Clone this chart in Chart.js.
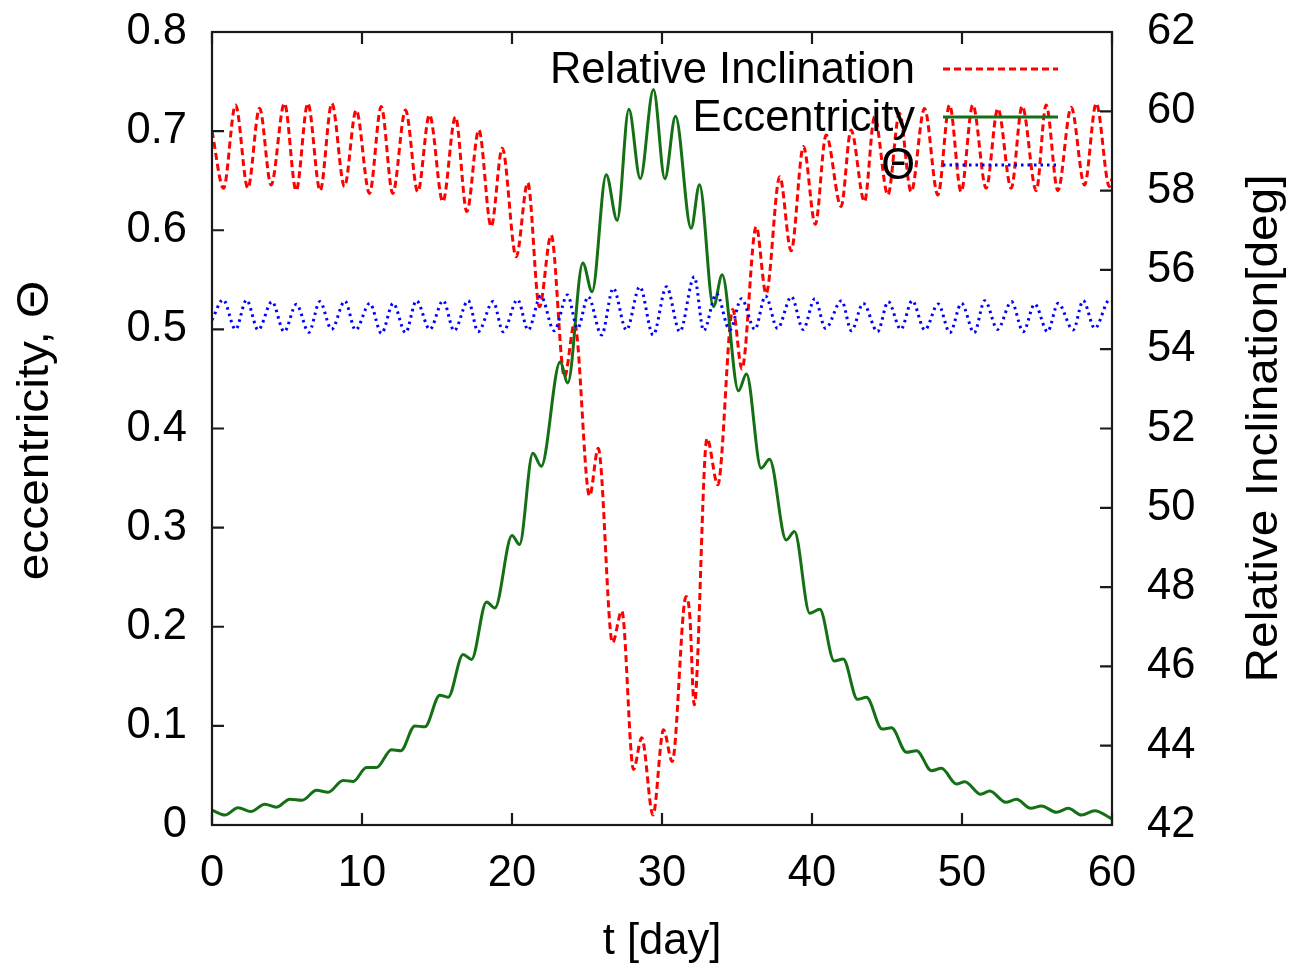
<!DOCTYPE html>
<html><head><meta charset="utf-8">
<script src="https://cdn.jsdelivr.net/npm/chart.js@4.4.1/dist/chart.umd.min.js"></script>
<style>html,body{margin:0;padding:0;background:#fff;}#wrap{width:1294px;height:973px;}</style>
</head><body><div id="wrap"><canvas id="c" width="1294" height="973"></canvas></div>
<script>
// ---- tick values ----
const xTicks = [0, 10, 20, 30, 40, 50, 60];
const eccTicks = [0, 0.1, 0.2, 0.3, 0.4, 0.5, 0.6, 0.7, 0.8];
const incTicks = [42, 44, 46, 48, 50, 52, 54, 56, 58, 60, 62];

// ---- labels ----
const xTitle = 't [day]';
const yTitle = 'eccentricity, \u0398';
const y2Title = 'Relative Inclination[deg]';
const seriesNames = ['Relative Inclination', 'Eccentricity', '\u0398'];

// ---- Relative inclination [deg] (right axis) ----
const incT = [0, 0.77, 1.57, 2.39, 3.17, 3.94, 4.83, 5.61, 6.39, 7.21, 7.99, 8.83, 9.61, 10.5, 11.28, 12.05, 12.9, 13.72, 14.5, 15.39, 16.23, 16.99, 17.79, 18.61, 19.35, 20.28, 21.05, 21.83, 22.61, 23.5, 24.17, 25.17, 25.75, 26.7, 27.32, 28.1, 28.65, 29.4, 30.1, 30.68, 31.6, 31.85, 32.15, 33.0, 33.72, 34.72, 35.33, 36.28, 36.94, 37.85, 38.61, 39.43, 40.22, 40.94, 41.94, 42.6, 43.5, 44.17, 45.06, 45.83, 46.61, 47.5, 48.39, 49.17, 49.94, 50.72, 51.61, 52.39, 53.28, 54.01, 54.95, 55.61, 56.39, 57.28, 58.17, 58.95, 59.83, 60];
const incV = [59.5, 58.06, 60.16, 58.06, 60.08, 58.14, 60.2, 58.0, 60.2, 58.0, 60.2, 58.1, 60.03, 57.93, 60.12, 57.93, 60.03, 57.97, 59.91, 57.72, 59.86, 57.47, 59.53, 57.09, 59.07, 56.33, 58.2, 55.07, 56.88, 53.3, 54.65, 50.3, 51.5, 46.6, 47.4, 43.4, 44.2, 42.25, 44.4, 43.6, 47.76, 47.3, 45.03, 51.75, 50.58, 55.0, 53.5, 57.09, 55.4, 58.35, 56.48, 59.11, 57.15, 59.4, 57.6, 59.53, 57.72, 59.86, 57.89, 59.95, 57.97, 60.07, 57.89, 60.16, 57.97, 60.16, 58.06, 60.07, 58.06, 60.13, 58.0, 60.16, 58.0, 60.1, 58.14, 60.2, 58.1, 58.3];

// ---- Eccentricity (left axis) ----
const eccT = [0, 0.86, 1.74, 2.59, 3.52, 4.3, 5.19, 6.01, 6.97, 7.74, 8.74, 9.41, 10.3, 10.97, 11.97, 12.59, 13.52, 14.19, 15.19, 15.74, 16.74, 17.3, 18.3, 18.86, 20.0, 20.5, 21.39, 21.95, 23.21, 23.72, 24.72, 25.34, 26.28, 27.01, 27.79, 28.55, 29.43, 30.19, 30.9, 31.94, 32.5, 33.43, 34.01, 35.1, 35.63, 36.61, 37.17, 38.28, 38.83, 39.85, 40.52, 41.48, 42.08, 43.03, 43.63, 44.68, 45.3, 46.3, 46.97, 47.97, 48.63, 49.63, 50.19, 51.25, 51.85, 52.92, 53.63, 54.59, 55.3, 56.3, 57.08, 57.97, 58.85, 59.85, 60];
const eccV = [0.015, 0.010, 0.0175, 0.0135, 0.021, 0.018, 0.026, 0.025, 0.035, 0.033, 0.045, 0.044, 0.058, 0.058, 0.076, 0.075, 0.100, 0.099, 0.131, 0.129, 0.172, 0.167, 0.225, 0.219, 0.292, 0.283, 0.375, 0.362, 0.467, 0.446, 0.567, 0.538, 0.656, 0.610, 0.722, 0.652, 0.742, 0.652, 0.715, 0.602, 0.646, 0.523, 0.555, 0.438, 0.455, 0.360, 0.369, 0.2875, 0.296, 0.2136, 0.2176, 0.1654, 0.1675, 0.1268, 0.1288, 0.0968, 0.098, 0.0733, 0.075, 0.0548, 0.0572, 0.0414, 0.0437, 0.031, 0.0343, 0.0229, 0.0259, 0.0168, 0.0192, 0.0128, 0.0168, 0.010, 0.0145, 0.0074, 0.006];

// ---- Theta (left axis) ----
const thT = [0, 0.74, 1.57, 2.3, 3.08, 4.0, 4.81, 5.63, 6.45, 7.19, 7.97, 8.86, 9.57, 10.52, 11.3, 12.08, 12.9, 13.63, 14.52, 15.41, 16.14, 17.08, 17.74, 18.74, 19.41, 20.37, 21.08, 21.92, 22.81, 23.7, 24.37, 25.08, 25.97, 26.75, 27.63, 28.52, 29.41, 30.3, 31.19, 32.15, 32.78, 33.63, 34.52, 35.3, 36.19, 36.9, 37.7, 38.63, 39.41, 40.19, 40.9, 41.97, 42.63, 43.41, 44.37, 45.08, 45.92, 46.68, 47.52, 48.41, 49.19, 49.97, 50.81, 51.52, 52.37, 53.3, 54.08, 54.85, 55.7, 56.41, 57.41, 58.08, 58.85, 59.85, 60];
const thV = [0.5095, 0.530, 0.500, 0.5296, 0.4994, 0.528, 0.4977, 0.5253, 0.497, 0.528, 0.500, 0.5286, 0.4994, 0.5263, 0.496, 0.5263, 0.4967, 0.529, 0.500, 0.529, 0.4987, 0.529, 0.4977, 0.528, 0.4977, 0.530, 0.4994, 0.5337, 0.4987, 0.5347, 0.501, 0.533, 0.4943, 0.5414, 0.4994, 0.543, 0.4943, 0.543, 0.4977, 0.553, 0.4987, 0.536, 0.4994, 0.531, 0.500, 0.5337, 0.501, 0.533, 0.500, 0.531, 0.501, 0.529, 0.4987, 0.5263, 0.4977, 0.528, 0.500, 0.529, 0.4994, 0.5256, 0.4967, 0.5263, 0.4967, 0.529, 0.500, 0.528, 0.4977, 0.5256, 0.4977, 0.5263, 0.4994, 0.529, 0.501, 0.530, 0.529];

const pts = (xs, ys) => xs.map((x, i) => ({x: x, y: ys[i]}));
const FONT = 'Liberation Sans, Arial, sans-serif';
const FS = 43.5;
const RED = '#ff0000', GREEN = '#157015', BLUE = '#0000ff';

function drawVTitle(ctx, text, cx, cy) {
  ctx.save();
  ctx.translate(cx, cy);
  ctx.rotate(-Math.PI / 2);
  ctx.scale(1.1, 1);
  ctx.textAlign = 'center';
  ctx.textBaseline = 'middle';
  ctx.fillStyle = '#000';
  ctx.font = FS + 'px ' + FONT;
  ctx.fillText(text, 0, 0);
  ctx.restore();
}

const decor = {
  id: 'decor',
  afterDatasetsDraw(chart) {
    const {ctx, chartArea: a, scales} = chart;
    ctx.save();
    ctx.strokeStyle = '#1a1a1a';
    ctx.lineWidth = 2.2;
    ctx.setLineDash([]);
    ctx.strokeRect(a.left, a.top, a.right - a.left, a.bottom - a.top);
    const TL = 12;
    ctx.beginPath();
    xTicks.forEach(v => { const p = scales.x.getPixelForValue(v); ctx.moveTo(p, a.bottom); ctx.lineTo(p, a.bottom - TL); ctx.moveTo(p, a.top); ctx.lineTo(p, a.top + TL); });
    eccTicks.forEach(v => { const p = scales.y.getPixelForValue(v); ctx.moveTo(a.left, p); ctx.lineTo(a.left + TL, p); });
    incTicks.forEach(v => { const p = scales.y2.getPixelForValue(v); ctx.moveTo(a.right, p); ctx.lineTo(a.right - TL, p); });
    ctx.stroke();

    // legend (gnuplot style: text right-aligned, sample to the right)
    ctx.font = FS + 'px ' + FONT;
    ctx.fillStyle = '#000';
    ctx.textAlign = 'right';
    ctx.textBaseline = 'middle';
    const rows = [71, 119, 167];
    chart.data.datasets.forEach((ds, i) => {
      const y = rows[i];
      ctx.fillText(ds.label, 915, y);
      ctx.beginPath();
      ctx.strokeStyle = ds.borderColor;
      ctx.lineWidth = ds.borderWidth;
      ctx.setLineDash(ds.borderDash || []);
      ctx.moveTo(943, y - 2); ctx.lineTo(1058, y - 2);
      ctx.stroke();
    });
    ctx.setLineDash([]);

    // vertical axis titles (both read bottom to top)
    const midY = (a.top + a.bottom) / 2;
    drawVTitle(ctx, yTitle, 36, midY + 2);
    drawVTitle(ctx, y2Title, 1265, midY);
    ctx.restore();
  }
};

new Chart(document.getElementById('c'), {
  type: 'line',
  data: {
    datasets: [
      {label: seriesNames[0], data: pts(incT, incV), yAxisID: 'y2', borderColor: RED, borderWidth: 3, borderDash: [7, 4], order: 3},
      {label: seriesNames[1], data: pts(eccT, eccV), yAxisID: 'y', borderColor: GREEN, borderWidth: 3, order: 2},
      {label: seriesNames[2], data: pts(thT, thV), yAxisID: 'y', borderColor: BLUE, borderWidth: 3, borderDash: [2.5, 4], order: 1}
    ]
  },
  options: {
    responsive: false,
    animation: false,
    devicePixelRatio: 1,
    elements: {point: {radius: 0}, line: {cubicInterpolationMode: 'monotone', fill: false}},
    layout: {padding: {top: 32, left: 0, right: 0, bottom: 0}},
    plugins: {legend: {display: false}, tooltip: {enabled: false}},
    scales: {
      x: {
        type: 'linear', min: 0, max: 60,
        afterBuildTicks: s => { s.ticks = xTicks.map(v => ({value: v})); },
        afterFit: s => { s.height = 148; s.paddingLeft = 0; s.paddingRight = 0; },
        grid: {display: false, drawTicks: false}, border: {display: false},
        ticks: {padding: 23, color: '#000', font: {family: FONT, size: FS}},
        title: {display: true, text: xTitle, color: '#000', font: {family: FONT, size: FS}, padding: {top: 0, bottom: 5}}
      },
      y: {
        type: 'linear', position: 'left', min: 0, max: 0.8,
        afterBuildTicks: s => { s.ticks = eccTicks.map(v => ({value: v})); },
        afterFit: s => { s.width = 212; s.paddingTop = 0; s.paddingBottom = 0; },
        grid: {display: false, drawTicks: false}, border: {display: false},
        ticks: {padding: 25, color: '#000', font: {family: FONT, size: FS}}
      },
      y2: {
        type: 'linear', position: 'right', min: 42, max: 62,
        afterBuildTicks: s => { s.ticks = incTicks.map(v => ({value: v})); },
        afterFit: s => { s.width = 182; s.paddingTop = 0; s.paddingBottom = 0; },
        grid: {display: false, drawTicks: false}, border: {display: false},
        ticks: {padding: 35, color: '#000', font: {family: FONT, size: FS}}
      }
    }
  },
  plugins: [decor]
});
</script>
</body></html>
